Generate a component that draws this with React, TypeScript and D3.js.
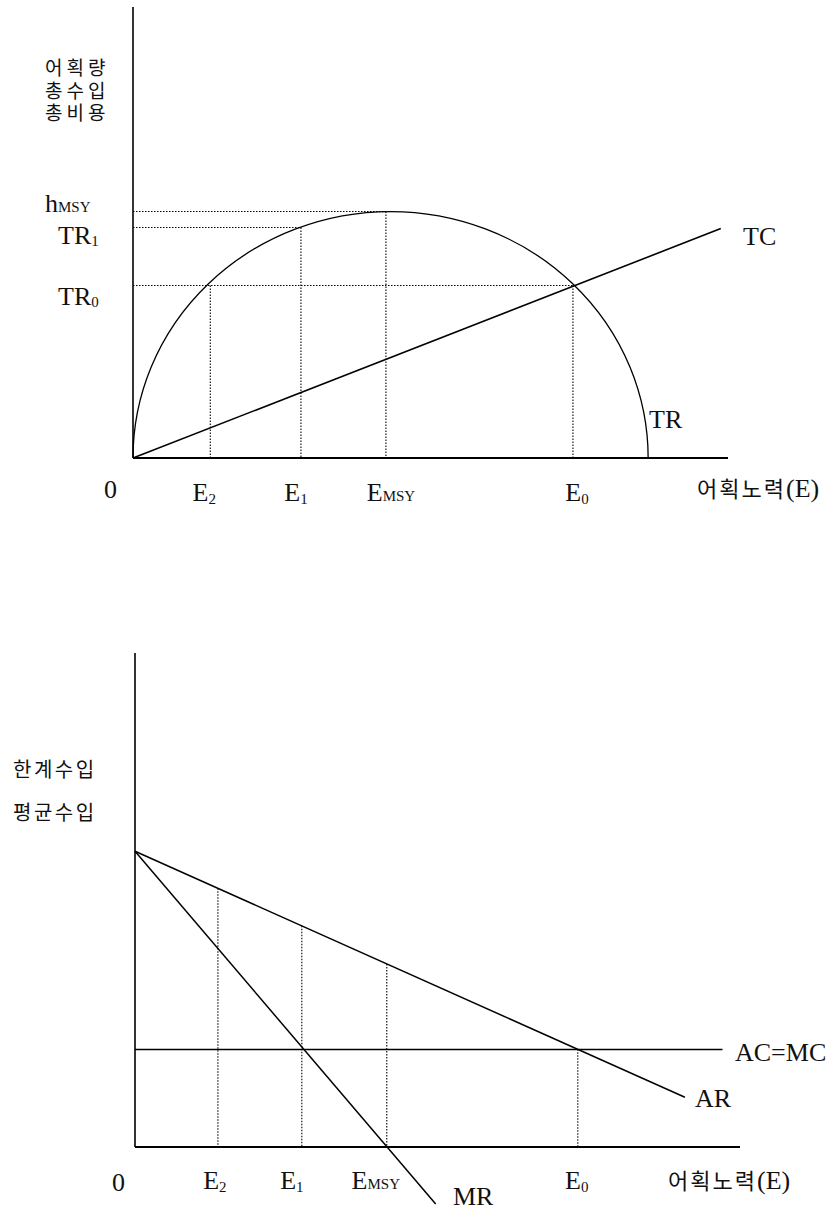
import React from "react";
import * as d3 from "d3";

// ---- shared labels -------------------------------------------------------
const effortNames = ["E", "E", "E", "E"];
const effortSubs = ["2", "1", "MSY", "0"];

// ---- upper panel: yield / total revenue / total cost vs. effort ---------
const topEffort = [15, 32.6, 49.1, 85.4]; // E2, E1, EMSY, E0
const topEffortLevel = [70, 93.5, 100, 70]; // TR reached at each effort
const revenueLevels = [100, 93.5, 70]; // hMSY, TR1, TR0
const revenueReach = [49.1, 32.6, 85.4]; // effort where each level meets the curve
const trEffortSpan = [0, 100]; // TR is zero at these efforts
const trPeak = 100; // maximum sustainable yield
const tcEffort = [0, 114.1];
const tcValue = [0, 93.1];

// ---- lower panel: marginal / average revenue vs. effort -----------------
const bottomEffort = [16.1, 32.4, 48.9, 86]; // E2, E1, EMSY, E0
const arEffort = [0, 106.8];
const arValue = [100, 16.8];
const mrEffort = [0, 58.4];
const mrValue = [100, -19.3];
const costLevel = 33; // AC = MC
const costEffort = [0, 114.1];

const SERIF = "'Liberation Serif', 'Times New Roman', serif";
const KR = "'Noto Sans CJK KR', sans-serif";

function Sub({ x, y, main, sub, size = 26, anchor = "start", subSize = 15, subDy = 2 }: any) {
  return (
    <text x={x} y={y} fontFamily={SERIF} fontSize={size} textAnchor={anchor} fill="#111">
      <tspan>{main}</tspan>
      <tspan fontSize={subSize} dy={subDy}>{sub}</tspan>
    </text>
  );
}

export default function App() {
  // upper scales
  const xT = d3.scaleLinear().domain([0, 115.5]).range([133, 728]);
  const yT = d3.scaleLinear().domain([0, 183]).range([458, 7]);
  // lower scales
  const xB = d3.scaleLinear().domain([0, 117.5]).range([135, 740]);
  const yB = d3.scaleLinear().domain([0, 167]).range([1147, 653]);

  const line = d3.line<[number, number]>();

  // TR: half ellipse between the two zero-revenue efforts
  const trX0 = xT(trEffortSpan[0]);
  const trX1 = xT(trEffortSpan[1]);
  const rx = (trX1 - trX0) / 2;
  const ry = yT(0) - yT(trPeak);
  const trPath = `M${trX0},${yT(0)} A${rx},${ry} 0 0 1 ${trX1},${yT(0)}`;

  const tcPath = line(tcEffort.map((e, i) => [xT(e), yT(tcValue[i])]));
  const arPath = line(arEffort.map((e, i) => [xB(e), yB(arValue[i])]));
  const mrPath = line(mrEffort.map((e, i) => [xB(e), yB(mrValue[i])]));
  const arAt = (e: number) =>
    arValue[0] + ((arValue[1] - arValue[0]) * (e - arEffort[0])) / (arEffort[1] - arEffort[0]);

  const topLabelDx = [-6, -5, 5, 4];
  const botLabelDx = [-3, -10, -11, -1];

  return (
    <svg
      width={829}
      height={1214}
      style={{ position: "absolute", left: 0, top: 0, background: "#fff" }}
    >
      {/* ===================== upper panel ===================== */}
      <g stroke="#000" fill="none">
        <line x1={xT(0)} y1={yT(183)} x2={xT(0)} y2={yT(0)} strokeWidth={1.6} />
        <line x1={xT(0)} y1={yT(0)} x2={xT(115.5)} y2={yT(0)} strokeWidth={1.8} />
        {/* guide lines */}
        <g strokeWidth={1.1} strokeDasharray="1.5,1.5">
          {revenueLevels.map((v, i) => (
            <line key={"h" + i} x1={xT(0)} y1={yT(v)} x2={xT(revenueReach[i])} y2={yT(v)} />
          ))}
          {topEffort.map((e, i) => (
            <line key={"v" + i} x1={xT(e)} y1={yT(topEffortLevel[i])} x2={xT(e)} y2={yT(0)} />
          ))}
        </g>
        <path d={trPath} strokeWidth={1.3} />
        <path d={tcPath!} strokeWidth={1.6} />
      </g>

      {/* upper axis titles */}
      {["어획량", "총수입", "총비용"].map((t, i) => (
        <text key={t} x={45} y={75 + i * 22.5} fontFamily={KR} fontSize={19} letterSpacing={4} fill="#111">
          {t}
        </text>
      ))}
      <Sub x={45} y={212} main="h" sub="MSY" subDy={0} />
      <Sub x={58} y={244} main="TR" sub="1" subDy={2} />
      <Sub x={58} y={305} main="TR" sub="0" subDy={2} />
      <text x={743} y={245} fontFamily={SERIF} fontSize={26} fill="#111">TC</text>
      <text x={649} y={428} fontFamily={SERIF} fontSize={26} fill="#111">TR</text>

      <text x={104} y={498} fontFamily={SERIF} fontSize={26} fill="#111">0</text>
      {topEffort.map((e, i) => (
        <Sub
          key={"tl" + i}
          x={xT(e) + topLabelDx[i]}
          y={501}
          anchor="middle"
          main={effortNames[i]}
          sub={effortSubs[i]}
          subDy={effortSubs[i] === "MSY" ? 0 : 3}
        />
      ))}
      <text x={697} y={497} fill="#111">
        <tspan fontFamily={KR} fontSize={22} letterSpacing={2}>어획노력</tspan>
        <tspan fontFamily={SERIF} fontSize={26}>(E)</tspan>
      </text>

      {/* ===================== lower panel ===================== */}
      <g stroke="#000" fill="none">
        <line x1={xB(0)} y1={yB(167)} x2={xB(0)} y2={yB(0)} strokeWidth={1.6} />
        <line x1={xB(0)} y1={yB(0)} x2={xB(117.5)} y2={yB(0)} strokeWidth={1.8} />
        <g strokeWidth={1.1} strokeDasharray="1.5,1.5">
          {bottomEffort.map((e, i) => (
            <line key={"bv" + i} x1={xB(e)} y1={yB(arAt(e))} x2={xB(e)} y2={yB(0)} />
          ))}
        </g>
        <line
          x1={xB(costEffort[0])}
          y1={yB(costLevel)}
          x2={xB(costEffort[1])}
          y2={yB(costLevel)}
          strokeWidth={1.5}
        />
        <path d={arPath!} strokeWidth={1.5} />
        <path d={mrPath!} strokeWidth={1.5} />
      </g>

      {["한계수입", "평균수입"].map((t, i) => (
        <text key={t} x={13} y={777 + i * 43} fontFamily={KR} fontSize={20} letterSpacing={2.5} fill="#111">
          {t}
        </text>
      ))}
      <text x={735} y={1061} fontFamily={SERIF} fontSize={26} fill="#111">AC=MC</text>
      <text x={695} y={1107} fontFamily={SERIF} fontSize={26} fill="#111">AR</text>
      <text x={453} y={1205} fontFamily={SERIF} fontSize={26} fill="#111">MR</text>

      <text x={112} y={1191} fontFamily={SERIF} fontSize={26} fill="#111">0</text>
      {bottomEffort.map((e, i) => (
        <Sub
          key={"bl" + i}
          x={xB(e) + botLabelDx[i]}
          y={1189}
          anchor="middle"
          main={effortNames[i]}
          sub={effortSubs[i]}
          subDy={effortSubs[i] === "MSY" ? 0 : 3}
        />
      ))}
      <text x={668} y={1189} fill="#111">
        <tspan fontFamily={KR} fontSize={22} letterSpacing={2}>어획노력</tspan>
        <tspan fontFamily={SERIF} fontSize={26}>(E)</tspan>
      </text>
    </svg>
  );
}
